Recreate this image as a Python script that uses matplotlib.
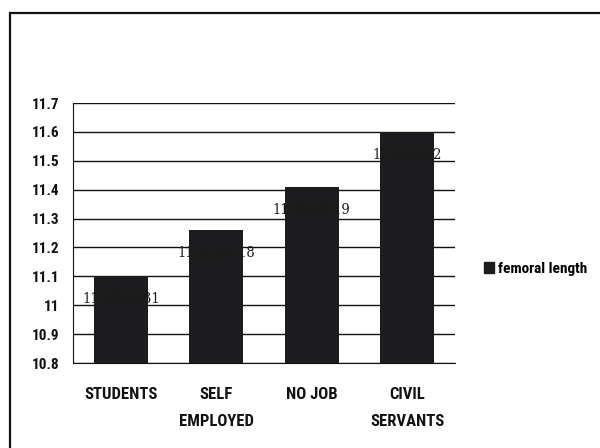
import matplotlib.pyplot as plt
import matplotlib.patches as mpatches
import numpy as np

# data
categories = ['STUDENTS', 'SELF\nEMPLOYED', 'NO JOB', 'CIVIL\nSERVANTS']
heights = [11.10, 11.26, 11.41, 11.60]
value_labels = ['11.10±0.31', '11.27±0.18', '11.43±0.19', '11.61±0.2']
yticks = [10.8, 10.9, 11.0, 11.1, 11.2, 11.3, 11.4, 11.5, 11.6, 11.7]
ytick_labels = ['10.8', '10.9', '11', '11.1', '11.2', '11.3', '11.4', '11.5', '11.6', '11.7']

W, H = 600, 448
SANS = ['Roboto Condensed', 'DejaVu Sans']
BAR = '#1c1c1e'

fig = plt.figure(figsize=[6, 4.48], dpi=100)
fig.patch.set_facecolor('white')

# outer frame of the scanned figure (runs past right and bottom edges)
frame = mpatches.Rectangle((10 / W, -0.1), 1.2, 1 - 13 / H + 0.1, transform=fig.transFigure,
                           fill=False, edgecolor='#111111', linewidth=1.6)
fig.patches.append(frame)

ax = fig.add_axes([73 / W, 1 - 363 / H, 382 / W, 260 / H])
x = np.arange(len(categories))
ax.bar(x, heights, width=0.57, color=BAR, zorder=2)
ax.set_ylim(10.8, 11.7)
ax.set_xlim(-0.5, 3.5)
ax.set_yticks(yticks)
ax.set_yticklabels(ytick_labels)
ax.set_xticks(x)
ax.set_xticklabels(categories, linespacing=2.05)
ax.yaxis.grid(True, color='#111111', linewidth=1.0, zorder=0)
ax.set_axisbelow(True)
for s in ['top', 'right']:
    ax.spines[s].set_visible(False)
ax.spines['left'].set_color('#111111')
ax.spines['bottom'].set_color('#111111')
ax.tick_params(axis='both', length=0)
ax.tick_params(axis='y', pad=10)
ax.tick_params(axis='x', pad=17)
for lab in ax.get_yticklabels():
    lab.set_fontfamily(SANS)
    lab.set_fontweight('bold')
    lab.set_fontsize(11)
    lab.set_color('#111111')
for lab in ax.get_xticklabels():
    lab.set_fontfamily(SANS)
    lab.set_fontweight('bold')
    lab.set_fontsize(12)
    lab.set_color('#111111')

for xi, h, t in zip(x, heights, value_labels):
    ax.text(xi, h - 0.08, t, ha='center', va='center', fontsize=10.5,
            family=['DejaVu Serif', 'Liberation Serif'], fontstretch='condensed',
            color='#1a1a1a', zorder=3)

fig.legend(handles=[mpatches.Patch(color=BAR, label='femoral length')],
           loc='center left', bbox_to_anchor=(470 / W, 1 - 269 / H), frameon=False,
           handlelength=0.65, handleheight=0.75, handletextpad=0.3,
           prop={'family': SANS, 'size': 11, 'weight': 'bold'})

plt.savefig('out.png', facecolor='white', dpi=100)
